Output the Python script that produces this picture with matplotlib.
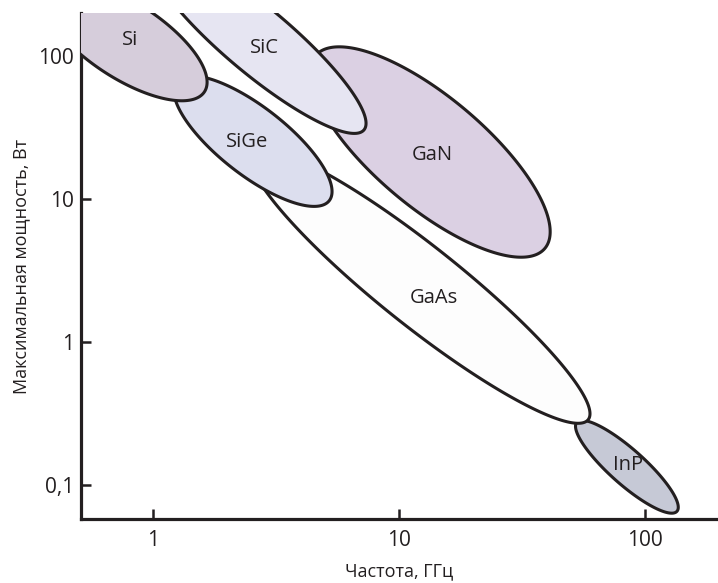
import numpy as np
import matplotlib
matplotlib.use("Agg")
import matplotlib.pyplot as plt

plt.rcParams['font.family'] = ['Open Sans', 'DejaVu Sans']

# materials, drawn bottom to top
materials = ["InP", "GaAs", "SiGe", "Si", "GaN", "SiC"]
# ellipse centre (GHz, W)
center_freq = [84.5, 12.2, 2.55, 0.77, 13.4, 2.65]
center_power = [0.134, 2.46, 25.4, 129.0, 21.3, 129.0]
# end of the long axis (GHz, W)
tip_freq = [135.0, 58.8, 5.21, 1.62, 39.2, 7.21]
tip_power = [0.0654, 0.286, 9.73, 56.2, 4.51, 30.4]
# short / long axis ratio
axis_ratio = [0.26, 0.186, 0.35, 0.40, 0.367, 0.236]
# label positions
label_freq = [85.3, 13.9, 2.41, 0.806, 13.7, 2.85]
label_power = [0.138, 2.03, 25.1, 129.0, 20.3, 113.7]
colors = ["#c6c9d6", "#fdfdfd", "#dcdeee", "#d6cddb", "#dbd0e3", "#e6e5f2"]

x_ticks = [1, 10, 100]
x_tick_labels = ["1", "10", "100"]
y_ticks = [0.1, 1, 10, 100]
y_tick_labels = ["0,1", "1", "10", "100"]

ink = "#231f20"

fig = plt.figure(figsize=(7.18, 5.83), dpi=100)
ax = fig.add_axes([0.1128, 0.1098, 0.887, 0.868])
ax.set_xscale("log")
ax.set_yscale("log")
ax.set_xlim(0.51, 198)
ax.set_ylim(0.0578, 200)

t = np.linspace(0, 2 * np.pi, 400)
for i, name in enumerate(materials):
    p0 = ax.transData.transform((center_freq[i], center_power[i]))
    p1 = ax.transData.transform((tip_freq[i], tip_power[i]))
    major = p1 - p0
    minor = axis_ratio[i] * np.array([-major[1], major[0]])
    pts = p0 + np.outer(np.cos(t), major) + np.outer(np.sin(t), minor)
    xy = ax.transData.inverted().transform(pts)
    ax.fill(xy[:, 0], xy[:, 1], facecolor=colors[i], edgecolor=ink,
            linewidth=2.2, zorder=i + 1)
    ax.text(label_freq[i], label_power[i], name, ha="center", va="center",
            fontsize=14.5, color=ink, zorder=20)

for side in ["top", "right"]:
    ax.spines[side].set_visible(False)
for side in ["left", "bottom"]:
    ax.spines[side].set_linewidth(2.3)
    ax.spines[side].set_color(ink)

ax.set_xticks(x_ticks)
ax.set_xticklabels(x_tick_labels)
ax.set_yticks(y_ticks)
ax.set_yticklabels(y_tick_labels)
ax.minorticks_off()
ax.tick_params(direction="in", length=7, width=1.8, color=ink,
               labelsize=15, labelcolor=ink)
ax.tick_params(axis="x", pad=8)
ax.tick_params(axis="y", pad=5)

ax.set_xlabel("Частота, ГГц", fontsize=13, color=ink, labelpad=8)
ax.set_ylabel("Максимальная мощность, Вт", fontsize=13, color=ink, labelpad=6)

fig.savefig("out.png", dpi=100)
